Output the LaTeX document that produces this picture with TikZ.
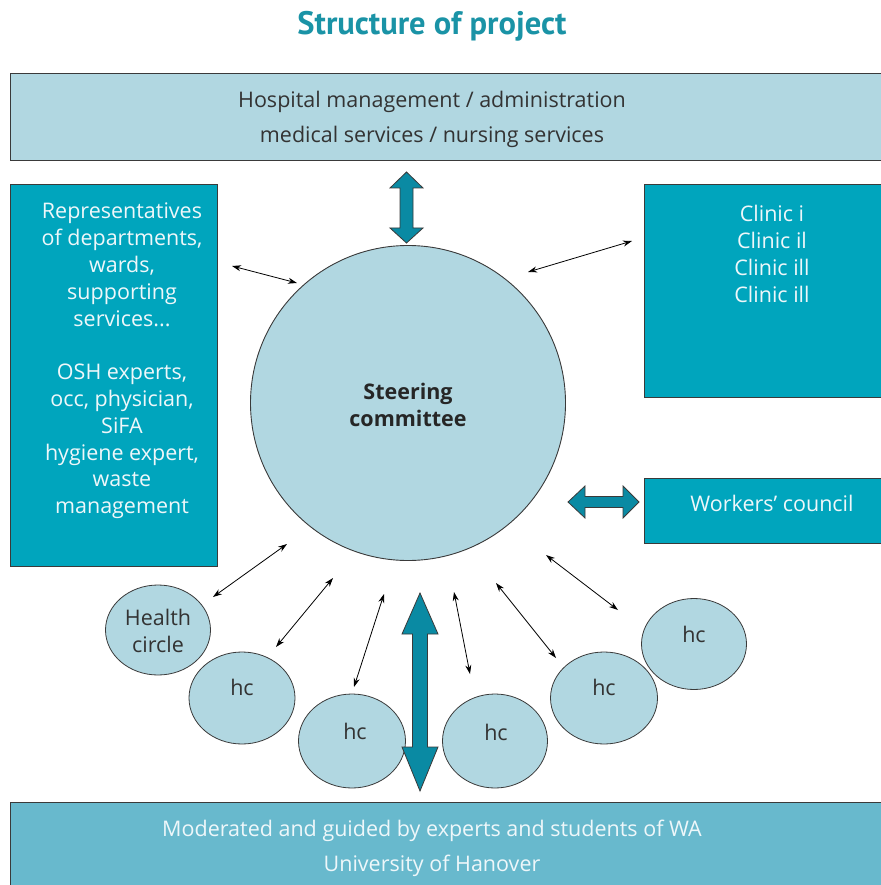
\documentclass[tikz,border=0pt]{standalone}
\usepackage{fontspec}
\setmainfont{Open Sans}
\newfontfamily\titlefont{PT Sans}
\usetikzlibrary{arrows.meta,shapes.geometric}
\definecolor{lightbox}{HTML}{B1D7E1}
\definecolor{tealbox}{HTML}{00A5BD}
\definecolor{darkteal}{HTML}{0A8AA3}
\definecolor{botbox}{HTML}{68B9CD}
\definecolor{titlec}{HTML}{1A93A6}
\definecolor{edgec}{HTML}{3A3A3A}
\definecolor{txtdark}{HTML}{333333}
\definecolor{txtlight}{HTML}{EEF7FA}
\tikzset{
  boxshape/.style={draw=edgec, line width=0.9pt, rectangle, inner sep=0pt, anchor=north west},
  bodytext/.style={font=\fontsize{21.5}{26.8}\selectfont, align=center, inner sep=0pt},
  hcell/.style={draw=edgec, line width=0.8pt, fill=lightbox, ellipse, inner sep=0pt},
  thinarrow/.style={line width=0.8pt, {Stealth[length=9pt,width=6pt]}-{Stealth[length=9pt,width=6pt]}},
  fatarrow/.style={fill=darkteal, draw=edgec, line width=0.8pt, line join=miter},
}
\begin{document}
\begin{tikzpicture}[x=1pt,y=-1pt]
\useasboundingbox (0,0) rectangle (880,885);
\fill[white] (0,0) rectangle (880,885);

% title
\node[font=\titlefont\fontsize{32.5}{35}\selectfont\bfseries, text=titlec, inner sep=0pt] (title) at (432,26) {Structure of project};

% top box
\node[boxshape, fill=lightbox, minimum width=880, minimum height=87] (topbox) at (10,73) {};
\node[bodytext, text=txtdark, font=\fontsize{21.5}{35}\selectfont] (toptext) at (432,119) {Hospital management / administration\\medical services / nursing services};

% left box
\node[boxshape, fill=tealbox, minimum width=207, minimum height=382] (leftbox) at (10,184) {};
\node[bodytext, text=txtlight] (lefttext) at (122,361) {Representatives\\of departments,\\wards,\\supporting\\services...\\[26.8pt]OSH experts,\\occ, physician,\\SiFA\\hygiene expert,\\waste\\management};

% clinic box
\node[boxshape, fill=tealbox, minimum width=246, minimum height=213] (clinicbox) at (644,184) {};
\node[bodytext, text=txtlight] (clinictext) at (772,254) {Clinic i\\Clinic il\\Clinic ill\\Clinic ill};

% workers council
\node[boxshape, fill=tealbox, minimum width=246, minimum height=65] (workbox) at (644,478) {};
\node[bodytext, text=txtlight] (worktext) at (772,503) {Workers’ council};

% bottom box
\node[boxshape, fill=botbox, minimum width=880, minimum height=90] (botbox) at (10,802) {};
\node[bodytext, text=txtlight, font=\fontsize{21.5}{35}\selectfont] (bottext) at (432,848) {Moderated and guided by experts and students of WA\\University of Hanover};

% steering circle
\node[circle, draw=edgec, line width=0.9pt, fill=lightbox, minimum size=315, inner sep=0pt] (steer) at (408,403) {};
\node[font=\fontsize{21.5}{27}\selectfont\bfseries, text=black!85, align=center, inner sep=0pt] (steertext) at (408,405) {Steering\\committee};

% health circles
\node[hcell, minimum width=105, minimum height=90] (hc0) at (158,630) {};
\node[bodytext, text=txtdark, font=\fontsize{21.5}{27}\selectfont] (hc0t) at (158,631) {Health\\circle};
\node[hcell, minimum width=106, minimum height=92] (hc1) at (242,698) {};
\node[bodytext, text=txtdark] (hc1t) at (242,687) {hc};
\node[hcell, minimum width=107, minimum height=94] (hc2) at (352,741) {};
\node[bodytext, text=txtdark] (hc2t) at (355,731) {hc};
\node[hcell, minimum width=105, minimum height=94] (hc3) at (495,741) {};
\node[bodytext, text=txtdark] (hc3t) at (496,732) {hc};
\node[hcell, minimum width=107, minimum height=92] (hc4) at (604,698) {};
\node[bodytext, text=txtdark] (hc4t) at (604,687) {hc};
\node[hcell, minimum width=105, minimum height=91] (hc5) at (694,644) {};
\node[bodytext, text=txtdark] (hc5t) at (694,634) {hc};

% fat double arrows
\draw[fatarrow] (406.5,172) -- (423,188) -- (413,188) -- (413,228) -- (423,228) -- (406.5,243)
  -- (390,228) -- (400,228) -- (400,188) -- (390,188) -- cycle;
\draw[fatarrow] (568,502) -- (585,486) -- (585,496.5) -- (623,496.5) -- (623,486) -- (639,502)
  -- (623,518) -- (623,507.5) -- (585,507.5) -- (585,518) -- cycle;
\draw[fatarrow] (420,593) -- (438,634) -- (427.5,634) -- (427.5,747) -- (438,747) -- (420,791)
  -- (402,747) -- (412.5,747) -- (412.5,634) -- (402,634) -- cycle;

% thin arrow end points
\coordinate (a1s) at (232,266); \coordinate (a1e) at (297,283);
\coordinate (a2s) at (528,272); \coordinate (a2e) at (632,241);
\coordinate (a3s) at (287,544); \coordinate (a3e) at (213,597);
\coordinate (a4s) at (333,578); \coordinate (a4e) at (276,647);
\coordinate (a5s) at (384,594); \coordinate (a5e) at (354,687);
\coordinate (a6s) at (454,592); \coordinate (a6e) at (470,674);
\coordinate (a7s) at (496,583); \coordinate (a7e) at (556,658);
\coordinate (a8s) at (546,555); \coordinate (a8e) at (618,610);
\foreach \i in {1,...,8} {\draw[thinarrow] (a\i s) -- (a\i e);}
\end{tikzpicture}
\end{document}
